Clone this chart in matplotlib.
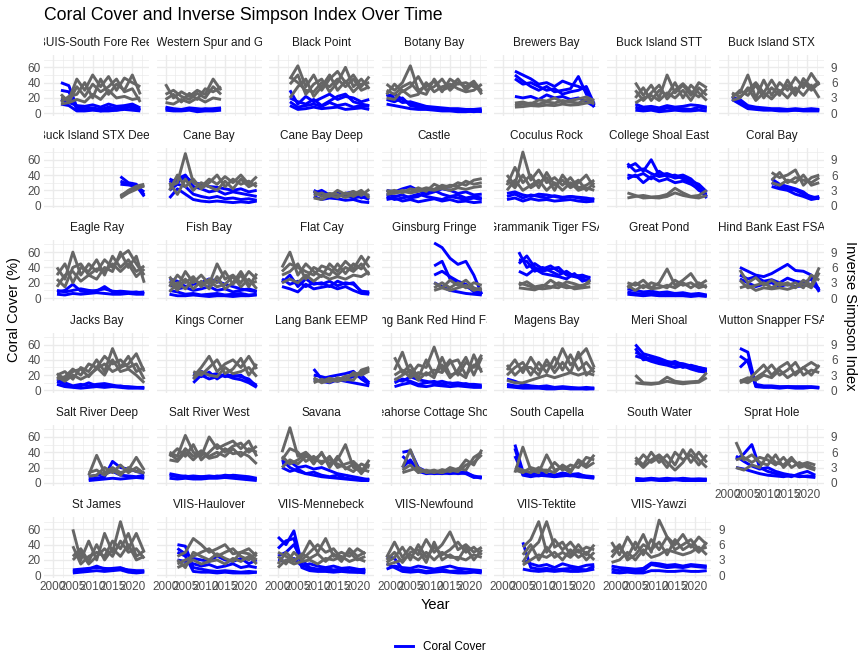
import numpy as np
import matplotlib
matplotlib.use("Agg")
import matplotlib.pyplot as plt
from matplotlib.lines import Line2D
from matplotlib.ticker import MultipleLocator, FixedLocator
from matplotlib.transforms import Bbox, TransformedBbox, offset_copy

plt.rcParams['font.family'] = ['Liberation Sans', 'DejaVu Sans']

# ---------------- data ----------------
SITES = [
    "BUIS-South Fore Reef", "BUIS-Western Spur and Groove", "Black Point", "Botany Bay",
    "Brewers Bay", "Buck Island STT", "Buck Island STX",
    "Buck Island STX Deep", "Cane Bay", "Cane Bay Deep", "Castle", "Coculus Rock",
    "College Shoal East", "Coral Bay",
    "Eagle Ray", "Fish Bay", "Flat Cay", "Ginsburg Fringe", "Grammanik Tiger FSA",
    "Great Pond", "Hind Bank East FSA",
    "Jacks Bay", "Kings Corner", "Lang Bank EEMP", "Lang Bank Red Hind FSA", "Magens Bay",
    "Meri Shoal", "Mutton Snapper FSA",
    "Salt River Deep", "Salt River West", "Savana", "Seahorse Cottage Shoal", "South Capella",
    "South Water", "Sprat Hole",
    "St James", "VIIS-Haulover", "VIIS-Mennebeck", "VIIS-Newfound", "VIIS-Tektite", "VIIS-Yawzi",
]

# first survey year of each site; surveys every YEAR_STEP years
START_YEAR = [2002, 2000, 2003, 1999, 2003, 2005, 2001,
              2017, 2001, 2009, 1999, 2001, 2003, 2011,
              2001, 2001, 2001, 2011, 2004, 2003, 2003,
              2001, 2007, 2009, 2001, 2001, 2005, 2003,
              2009, 2001, 2001, 2003, 2003, 2005, 2002,
              2005, 2003, 2000, 1999, 2005, 1999]
YEAR_STEP = 2

# coral cover (%) per transect, per site
CORAL_COVER = [
    # BUIS-South Fore Reef
    [[40, 36, 8, 6, 7, 5, 8, 6, 9, 7, 5], [30, 28, 5, 4, 6, 3, 5, 4, 6, 10, 4],
     [18, 14, 10, 9, 11, 8, 12, 9, 10, 12, 7], [12, 10, 3, 3, 4, 3, 3, 4, 5, 4, 3]],
    # BUIS-Western Spur and Groove
    [[8, 6, 5, 7, 6, 5, 6, 7], [4, 3, 3, 4, 2, 3, 3, 4], [6, 5, 4, 5, 4, 6, 5, 5]],
    # Black Point
    [[30, 12, 22, 15, 20, 25, 18, 22, 20, 15, 18], [15, 8, 10, 12, 9, 14, 10, 12, 8, 10, 9],
     [10, 5, 6, 8, 6, 7, 8, 5, 6, 7, 5], [20, 15, 12, 18, 10, 16, 22, 25, 15, 12, 10]],
    # Botany Bay
    [[22, 25, 18, 12, 10, 8, 6, 5, 4, 5, 3, 4, 3], [18, 15, 20, 10, 8, 6, 5, 4, 4, 3, 3, 2, 3],
     [12, 10, 8, 6, 5, 5, 4, 3, 3, 2, 2, 3, 2], [25, 20, 14, 15, 12, 9, 8, 7, 6, 6, 5, 5, 6]],
    # Brewers Bay
    [[55, 50, 45, 38, 40, 35, 42, 38, 35, 30, 10], [50, 42, 35, 30, 35, 28, 30, 32, 48, 25, 8],
     [45, 38, 40, 35, 30, 32, 25, 28, 30, 35, 12], [22, 20, 22, 18, 24, 20, 22, 18, 20, 15, 9]],
    # Buck Island STT
    [[8, 5, 6, 4, 7, 5, 6, 5, 8, 6], [4, 3, 4, 2, 3, 4, 3, 3, 4, 3],
     [12, 8, 9, 7, 10, 8, 9, 11, 10, 8]],
    # Buck Island STX
    [[20, 18, 10, 8, 7, 6, 6, 5, 6, 5, 6, 5], [22, 15, 8, 6, 5, 5, 4, 5, 4, 4, 5, 4],
     [18, 12, 6, 5, 4, 4, 3, 3, 4, 3, 3, 3]],
    # Buck Island STX Deep
    [[38, 30, 28, 14], [32, 28, 26, 12], [28, 27, 25, 18]],
    # Cane Bay
    [[30, 35, 40, 25, 22, 18, 20, 15, 18, 16, 14, 12], [20, 28, 25, 15, 12, 10, 12, 9, 10, 8, 9, 7],
     [10, 22, 15, 8, 6, 5, 6, 5, 4, 5, 4, 6], [35, 30, 38, 30, 28, 25, 24, 22, 20, 22, 18, 20]],
    # Cane Bay Deep
    [[20, 15, 12, 18, 14, 10, 12, 8], [12, 8, 10, 9, 7, 8, 5, 4], [16, 20, 14, 12, 16, 18, 10, 14]],
    # Castle
    [[15, 12, 14, 10, 12, 18, 20, 15, 12, 14, 10, 12, 10], [8, 10, 6, 8, 5, 7, 9, 6, 8, 5, 6, 4, 5],
     [20, 18, 22, 25, 20, 15, 18, 22, 20, 16, 18, 14, 15], [12, 8, 10, 12, 15, 12, 10, 8, 12, 10, 8, 10, 8]],
    # Coculus Rock
    [[12, 15, 10, 14, 12, 10, 13, 11, 12, 10, 8, 9], [8, 10, 6, 9, 7, 8, 6, 7, 8, 6, 5, 6],
     [16, 18, 14, 12, 15, 14, 12, 10, 12, 11, 10, 8]],
    # College Shoal East
    [[50, 55, 45, 60, 40, 42, 38, 40, 35, 25, 12], [40, 38, 42, 35, 45, 38, 40, 35, 30, 20, 15],
     [35, 40, 30, 38, 32, 35, 30, 32, 28, 22, 10], [55, 45, 48, 42, 38, 40, 36, 38, 32, 28, 18]],
    # Coral Bay
    [[35, 28, 25, 22, 18, 10, 12], [30, 25, 22, 20, 15, 12, 9], [25, 22, 20, 15, 12, 8, 10]],
    # Eagle Ray
    [[8, 10, 18, 9, 8, 10, 12, 9, 8, 7, 8, 6], [5, 4, 6, 5, 6, 7, 6, 5, 5, 6, 5, 5],
     [10, 8, 10, 12, 10, 9, 15, 8, 9, 8, 7, 8]],
    # Fish Bay
    [[25, 22, 15, 18, 20, 25, 22, 18, 15, 12, 10, 8], [10, 8, 5, 6, 4, 5, 6, 4, 5, 6, 4, 5],
     [18, 12, 14, 10, 12, 15, 10, 12, 8, 10, 12, 9], [5, 3, 3, 4, 3, 2, 3, 3, 2, 3, 3, 4]],
    # Flat Cay
    [[20, 30, 15, 25, 18, 20, 15, 22, 18, 20, 8, 6], [15, 12, 8, 18, 12, 14, 16, 12, 15, 10, 6, 5],
     [25, 18, 22, 15, 20, 18, 22, 16, 20, 18, 9, 8]],
    # Ginsburg Fringe
    [[72, 66, 52, 44, 48, 30, 5], [42, 48, 25, 20, 15, 10, 6],
     [30, 35, 28, 22, 18, 8, 5], [20, 15, 10, 8, 6, 5, 4]],
    # Grammanik Tiger FSA
    [[60, 40, 45, 38, 42, 35, 32, 30, 28, 27], [50, 48, 35, 40, 35, 30, 35, 28, 25, 22],
     [35, 30, 38, 32, 30, 28, 25, 32, 22, 25], [45, 55, 40, 35, 38, 40, 30, 28, 30, 26]],
    # Great Pond
    [[12, 10, 8, 9, 7, 8, 6, 7, 5, 6, 4], [8, 6, 5, 6, 4, 5, 4, 5, 3, 4, 3],
     [5, 4, 3, 4, 3, 3, 3, 3, 2, 3, 2]],
    # Hind Bank East FSA
    [[40, 35, 30, 28, 32, 38, 44, 36, 35, 30, 10], [30, 25, 28, 22, 24, 20, 26, 22, 20, 25, 8],
     [25, 20, 15, 18, 20, 15, 18, 15, 16, 18, 12]],
    # Jacks Bay
    [[12, 8, 5, 6, 10, 6, 7, 5, 6, 4, 4, 3], [8, 5, 4, 3, 4, 5, 4, 5, 4, 3, 3, 3],
     [15, 10, 6, 8, 6, 8, 9, 7, 5, 5, 4, 4]],
    # Kings Corner
    [[15, 25, 20, 22, 18, 20, 18, 15, 5], [10, 20, 15, 18, 20, 16, 14, 10, 4],
     [22, 18, 24, 15, 22, 18, 20, 12, 7]],
    # Lang Bank EEMP
    [[28, 15, 18, 20, 22, 25, 15, 8], [15, 12, 10, 14, 12, 10, 8, 6], [20, 18, 15, 12, 15, 18, 20, 10]],
    # Lang Bank Red Hind FSA
    [[10, 15, 12, 8, 10, 12, 8, 10, 7, 9, 6, 5], [5, 8, 10, 6, 5, 7, 6, 5, 6, 5, 4, 4],
     [15, 12, 18, 14, 12, 10, 12, 9, 10, 8, 8, 7]],
    # Magens Bay
    [[15, 12, 8, 6, 5, 6, 4, 5, 4, 3, 4, 3], [8, 6, 5, 4, 4, 3, 3, 3, 3, 3, 2, 3],
     [5, 4, 3, 3, 3, 2, 2, 3, 2, 2, 2, 2]],
    # Meri Shoal
    [[60, 48, 45, 42, 38, 36, 35, 32, 30, 27], [50, 45, 40, 38, 35, 38, 33, 30, 28, 25],
     [45, 42, 38, 35, 33, 30, 32, 28, 25, 24], [55, 40, 42, 40, 36, 34, 30, 33, 30, 28]],
    # Mutton Snapper FSA
    [[55, 50, 6, 5, 5, 4, 5, 4, 4, 4, 4], [45, 38, 5, 4, 4, 3, 4, 3, 3, 4, 3],
     [30, 40, 8, 6, 6, 5, 5, 5, 5, 5, 4]],
    # Salt River Deep
    [[5, 6, 8, 28, 20, 18, 15, 12], [3, 4, 5, 6, 5, 6, 7, 6], [8, 10, 12, 15, 10, 9, 8, 10]],
    # Salt River West
    [[10, 8, 9, 7, 8, 9, 8, 10, 9, 8, 6, 5], [6, 5, 6, 5, 5, 6, 6, 7, 6, 5, 4, 3],
     [12, 10, 8, 9, 8, 7, 9, 8, 10, 9, 8, 6]],
    # Savana
    [[30, 20, 15, 12, 10, 8, 7, 6, 5, 4, 3, 3], [20, 15, 18, 12, 14, 10, 8, 10, 6, 5, 4, 5],
     [25, 28, 20, 22, 18, 20, 16, 12, 10, 8, 6, 4]],
    # Seahorse Cottage Shoal
    [[40, 42, 20, 15, 14, 13, 15, 14, 12, 7, 8], [35, 25, 18, 14, 12, 13, 12, 13, 14, 8, 6],
     [20, 30, 15, 12, 13, 12, 14, 12, 13, 9, 7]],
    # South Capella
    [[50, 15, 12, 14, 12, 10, 13, 11, 12, 8, 7], [45, 10, 8, 10, 9, 8, 9, 10, 8, 7, 6],
     [35, 12, 10, 9, 11, 10, 10, 9, 10, 9, 8]],
    # South Water
    [[5, 4, 5, 4, 4, 5, 4, 4, 5, 4], [3, 3, 4, 3, 3, 4, 3, 3, 3, 3], [6, 5, 6, 5, 6, 5, 6, 5, 5, 5]],
    # Sprat Hole
    [[30, 38, 50, 20, 15, 12, 10, 8, 12, 15, 10], [35, 28, 22, 18, 20, 15, 12, 10, 8, 9, 8],
     [20, 18, 15, 12, 10, 9, 8, 10, 9, 8, 7]],
    # St James
    [[5, 6, 8, 12, 8, 9, 10, 6, 5, 5], [3, 4, 5, 6, 5, 6, 7, 4, 3, 4], [7, 8, 9, 10, 9, 8, 9, 7, 6, 6]],
    # VIIS-Haulover
    [[40, 38, 10, 8, 6, 5, 6, 5, 4, 5, 4], [30, 25, 5, 4, 4, 3, 4, 3, 3, 3, 4],
     [20, 18, 15, 12, 14, 10, 12, 15, 10, 12, 10], [35, 28, 22, 20, 18, 25, 20, 18, 22, 15, 20]],
    # VIIS-Mennebeck
    [[50, 40, 58, 15, 8, 6, 7, 5, 6, 5, 4, 5], [35, 45, 48, 10, 6, 5, 5, 4, 5, 4, 4, 3],
     [25, 30, 40, 20, 10, 8, 9, 7, 8, 6, 7, 8], [20, 18, 22, 12, 15, 12, 10, 12, 9, 10, 8, 6]],
    # VIIS-Newfound
    [[25, 22, 8, 6, 7, 5, 6, 8, 5, 6, 4, 5, 5], [15, 10, 5, 4, 5, 3, 4, 5, 4, 3, 3, 4, 3],
     [8, 12, 10, 9, 12, 10, 8, 10, 12, 9, 8, 7, 6]],
    # VIIS-Tektite
    [[43, 10, 8, 9, 7, 8, 9, 8, 7, 12], [8, 6, 5, 6, 5, 6, 5, 5, 6, 8],
     [20, 15, 12, 14, 10, 15, 12, 10, 13, 14]],
    # VIIS-Yawzi
    [[8, 6, 7, 5, 6, 14, 12, 10, 11, 10, 12, 11, 10], [4, 3, 4, 3, 3, 6, 6, 5, 5, 6, 5, 5, 6],
     [12, 10, 9, 8, 9, 16, 15, 13, 14, 12, 14, 13, 12]],
]

# inverse Simpson index per transect, per site
INV_SIMPSON = [
    # BUIS-South Fore Reef
    [[3.0, 2.7, 6.7, 4.5, 7.5, 5.2, 7.2, 4.5, 6.9, 6.0, 5.2], [2.2, 3.3, 3.7, 6.0, 3.0, 6.7, 3.7, 5.7, 4.5, 7.5, 3.7],
     [1.8, 2.1, 2.7, 2.2, 3.7, 2.7, 4.5, 3.0, 3.3, 2.7, 3.0], [3.7, 2.2, 5.2, 3.3, 5.7, 4.2, 5.2, 6.7, 4.2, 4.8, 2.2]],
    # BUIS-Western Spur and Groove
    [[5.7, 3.0, 4.2, 3.3, 4.5, 3.7, 6.7, 4.5], [2.7, 3.7, 2.2, 3.9, 2.7, 4.8, 4.2, 5.2],
     [2.1, 1.8, 2.7, 2.1, 3.0, 2.2, 3.0, 2.7], [3.7, 4.5, 3.3, 2.7, 3.9, 3.0, 5.2, 3.7]],
    # Black Point
    [[6.7, 9.3, 5.2, 7.5, 4.5, 6.7, 8.2, 6.0, 7.5, 5.2, 7.2], [5.7, 7.5, 3.7, 5.7, 6.7, 4.2, 6.0, 9.0, 5.2, 6.7, 4.8],
     [3.0, 5.2, 6.7, 3.3, 5.2, 7.5, 4.5, 6.3, 4.2, 5.7, 6.0], [7.2, 6.0, 4.5, 4.2, 6.0, 5.2, 6.7, 5.2, 6.7, 4.5, 5.2]],
    # Botany Bay
    [[5.7, 4.5, 6.0, 9.3, 4.5, 5.2, 6.3, 4.2, 6.7, 5.7, 6.0, 5.2, 4.5],
     [3.7, 5.7, 4.2, 5.2, 7.2, 4.5, 5.2, 6.7, 4.5, 6.0, 5.2, 6.3, 4.2],
     [3.0, 2.7, 4.5, 3.3, 3.7, 6.0, 4.2, 5.2, 5.7, 4.8, 4.2, 4.5, 5.7],
     [4.5, 3.7, 5.2, 6.0, 4.2, 3.7, 6.7, 4.5, 5.2, 6.7, 4.5, 6.0, 3.7]],
    # Brewers Bay
    [[1.5, 1.8, 2.0, 1.8, 2.2, 2.0, 2.5, 2.2, 2.0, 2.7, 1.8], [1.2, 1.3, 1.5, 1.4, 1.6, 1.5, 1.8, 1.6, 1.7, 2.0, 2.2],
     [2.0, 2.2, 1.8, 2.6, 2.4, 3.0, 2.2, 2.5, 2.8, 3.2, 2.5]],
    # Buck Island STT
    [[6.0, 3.5, 5.5, 3.0, 7.5, 4.0, 5.5, 3.5, 6.0, 5.0], [3.0, 5.0, 2.5, 4.5, 3.5, 6.0, 3.0, 5.5, 4.0, 2.5],
     [4.5, 2.5, 4.0, 5.5, 2.8, 4.5, 5.8, 4.2, 3.2, 4.8], [2.0, 3.0, 3.5, 2.5, 4.0, 3.0, 4.5, 2.5, 5.0, 3.5]],
    # Buck Island STX
    [[3.5, 4.0, 7.5, 3.0, 6.5, 3.5, 6.0, 4.5, 7.0, 5.0, 7.8, 5.5], [3.0, 4.5, 3.5, 5.5, 3.0, 5.0, 3.5, 6.5, 4.0, 6.0, 4.5, 6.0],
     [2.5, 3.0, 5.0, 2.5, 4.0, 2.8, 4.5, 3.0, 5.0, 3.5, 5.5, 3.0], [4.0, 3.2, 4.5, 6.0, 4.0, 6.5, 4.0, 5.5, 3.5, 6.8, 5.0, 6.2]],
    # Buck Island STX Deep
    [[1.5, 2.5, 3.2, 4.0], [2.0, 2.8, 3.5, 3.8], [1.8, 3.0, 3.8, 4.2]],
    # Cane Bay
    [[3.7, 4.5, 10.2, 4.5, 3.7, 5.2, 4.2, 5.7, 4.5, 6.0, 4.2, 5.7], [3.0, 6.0, 3.7, 5.2, 3.3, 4.5, 6.0, 3.7, 5.2, 4.2, 4.8, 3.7],
     [4.5, 2.2, 5.2, 3.0, 4.5, 3.7, 3.0, 4.8, 3.3, 5.2, 3.7, 4.5]],
    # Cane Bay Deep
    [[2.0, 2.5, 1.8, 3.0, 2.2, 2.8, 2.0, 3.2], [1.5, 1.2, 2.0, 1.6, 2.5, 1.8, 2.6, 2.0], [2.8, 1.8, 2.4, 2.2, 1.6, 2.2, 3.0, 1.5]],
    # Castle
    [[2.7, 3.0, 2.5, 3.3, 3.0, 3.5, 3.2, 4.0, 3.6, 4.5, 4.0, 5.0, 5.3],
     [2.2, 2.5, 3.0, 2.7, 3.5, 2.8, 4.2, 3.5, 4.0, 3.8, 4.8, 4.2, 4.5],
     [3.0, 2.4, 2.8, 2.5, 2.8, 3.2, 3.0, 3.4, 3.0, 3.5, 3.2, 3.6, 3.8]],
    # Coculus Rock
    [[6.0, 4.0, 10.5, 5.0, 7.0, 4.5, 5.5, 4.0, 5.5, 3.5, 4.0, 5.0], [4.0, 7.5, 4.5, 6.0, 3.5, 6.5, 4.0, 5.0, 3.5, 4.5, 6.0, 3.5],
     [3.0, 5.0, 3.0, 4.0, 5.0, 3.0, 4.5, 3.0, 4.5, 3.0, 3.5, 3.0], [5.0, 3.5, 6.0, 3.5, 4.5, 5.5, 3.0, 6.0, 4.0, 5.0, 3.0, 4.5]],
    # College Shoal East
    [[1.5, 1.8, 2.0, 1.7, 1.8, 2.2, 3.4, 2.5, 1.8, 2.0, 3.0], [2.5, 2.0, 1.5, 1.6, 1.5, 1.8, 2.5, 2.0, 1.7, 1.5, 2.0]],
    # Coral Bay
    [[6.5, 5.5, 6.0, 7.0, 4.0, 5.5, 6.0], [5.0, 6.5, 4.5, 5.5, 5.0, 4.5, 5.5], [4.5, 4.0, 5.0, 4.5, 6.0, 4.0, 4.5]],
    # Eagle Ray
    [[6.0, 3.7, 9.0, 4.5, 6.7, 5.2, 7.5, 6.0, 8.2, 9.3, 6.7, 4.5], [4.5, 6.7, 3.0, 6.0, 5.2, 7.5, 4.5, 8.2, 6.0, 7.5, 5.2, 6.3],
     [2.2, 4.5, 5.2, 3.3, 4.5, 3.7, 6.0, 5.2, 9.0, 6.0, 8.2, 3.0], [3.7, 2.2, 6.0, 6.7, 4.5, 5.7, 5.2, 6.7, 5.2, 6.7, 4.2, 5.7]],
    # Fish Bay
    [[4.2, 2.2, 5.2, 3.0, 4.5, 2.7, 6.7, 3.7, 4.5, 3.0, 5.2, 3.7], [2.2, 4.5, 3.0, 4.2, 2.2, 3.7, 3.0, 5.2, 2.7, 4.5, 2.2, 4.8],
     [1.2, 3.0, 1.8, 3.7, 2.7, 3.3, 2.2, 2.7, 4.2, 2.2, 3.7, 1.8], [3.3, 1.5, 3.7, 1.8, 3.3, 1.8, 4.2, 1.8, 3.0, 5.2, 2.7, 3.3]],
    # Flat Cay
    [[6.0, 9.0, 4.5, 6.7, 5.2, 4.2, 6.7, 5.2, 7.2, 5.7, 8.2, 6.0], [4.5, 5.2, 6.7, 3.7, 6.0, 5.2, 4.5, 6.7, 4.8, 6.7, 5.7, 8.2],
     [3.0, 3.7, 3.0, 4.5, 3.3, 4.5, 3.7, 4.2, 3.7, 4.5, 4.2, 5.2], [5.2, 6.7, 6.0, 5.2, 4.5, 6.3, 5.7, 4.5, 6.0, 5.2, 6.7, 4.5]],
    # Ginsburg Fringe
    [[3.0, 2.0, 3.5, 2.5, 3.5, 2.0, 1.5], [2.0, 3.0, 2.0, 3.0, 2.0, 3.0, 2.5],
     [1.5, 2.0, 1.5, 2.0, 2.5, 1.5, 2.0]],
    # Grammanik Tiger FSA
    [[2.0, 1.8, 1.6, 2.2, 3.5, 2.5, 2.0, 2.2, 2.5, 3.0], [3.0, 2.5, 2.0, 1.8, 2.0, 3.0, 2.5, 1.8, 2.0, 2.2],
     [2.5, 3.2, 2.2, 2.5, 2.2, 2.0, 3.2, 2.8, 2.2, 3.5]],
    # Great Pond
    [[3.0, 2.5, 3.5, 2.0, 3.0, 5.7, 2.5, 3.5, 4.8, 2.5, 3.5], [2.0, 3.0, 2.0, 3.0, 2.5, 2.0, 3.5, 2.5, 3.0, 2.0, 2.5],
     [2.5, 1.5, 2.5, 1.8, 2.0, 2.5, 2.0, 3.0, 2.0, 3.0, 2.0]],
    # Hind Bank East FSA
    [[5.5, 3.0, 4.0, 2.5, 3.5, 2.5, 3.0, 2.0, 3.5, 2.5, 6.0], [3.5, 2.0, 2.5, 3.0, 2.0, 3.0, 2.5, 3.0, 2.0, 4.5, 3.5],
     [2.0, 2.5, 1.5, 2.0, 1.8, 2.0, 1.7, 2.2, 2.8, 2.0, 5.0]],
    # Jacks Bay
    [[3.0, 3.7, 2.2, 4.5, 3.7, 6.0, 3.7, 8.2, 4.5, 5.2, 7.2, 3.7], [2.2, 2.7, 4.2, 3.0, 5.2, 4.5, 6.7, 5.2, 6.0, 4.5, 5.2, 2.2],
     [2.7, 1.8, 3.0, 2.2, 3.0, 4.2, 5.2, 3.7, 4.5, 6.7, 3.7, 4.5], [3.3, 2.2, 3.7, 4.2, 2.7, 4.5, 3.0, 6.0, 3.7, 4.2, 3.0, 1.5]],
    # Kings Corner
    [[2.7, 4.5, 6.7, 3.7, 5.2, 6.0, 4.5, 6.7, 4.2], [3.7, 3.0, 4.5, 6.0, 3.3, 4.2, 6.3, 3.0, 5.2],
     [2.2, 3.7, 3.0, 2.7, 4.5, 3.3, 3.7, 4.5, 2.7]],
    # Lang Bank EEMP
    [[2.0, 1.8, 2.4, 2.0, 2.8, 3.0, 3.5, 4.2], [1.5, 2.2, 1.6, 2.5, 2.0, 3.5, 3.0, 3.8], [2.5, 1.5, 2.0, 1.8, 2.2, 2.0, 4.0, 4.5]],
    # Lang Bank Red Hind FSA
    [[4.0, 7.5, 3.0, 5.0, 4.5, 8.5, 4.0, 6.0, 3.0, 5.5, 4.5, 7.0], [6.5, 3.5, 5.0, 2.5, 6.0, 3.0, 5.0, 2.5, 4.0, 6.5, 3.0, 6.5],
     [3.0, 4.0, 2.5, 3.5, 3.0, 4.0, 3.5, 5.5, 6.0, 3.0, 5.0, 4.0], [2.0, 3.0, 4.0, 2.0, 3.5, 2.5, 6.5, 3.0, 3.5, 2.5, 7.0, 3.5]],
    # Magens Bay
    [[4.0, 6.0, 3.5, 6.5, 4.0, 5.0, 4.5, 8.2, 5.0, 6.5, 8.2, 4.5], [3.0, 4.5, 5.5, 3.0, 5.5, 3.5, 6.5, 4.0, 7.0, 4.0, 5.5, 3.5],
     [2.0, 1.5, 1.5, 2.0, 2.5, 3.0, 2.5, 3.0, 3.5, 3.0, 3.5, 3.0], [5.0, 3.0, 4.5, 4.5, 3.0, 6.0, 3.5, 5.5, 3.5, 7.5, 3.0, 4.5]],
    # Meri Shoal
    [[3.0, 1.5, 1.4, 1.5, 2.6, 1.8, 1.6, 1.7, 1.8, 3.5], [1.5, 1.3, 1.2, 1.4, 1.8, 1.5, 1.3, 1.5, 1.6, 2.5]],
    # Mutton Snapper FSA
    [[1.5, 2.0, 3.5, 5.0, 3.0, 4.5, 5.5, 3.0, 4.5, 5.5, 4.5], [2.0, 1.5, 2.5, 3.5, 5.0, 3.0, 4.0, 5.5, 3.0, 4.0, 3.5],
     [1.8, 2.5, 2.0, 3.0, 2.5, 4.0, 2.5, 3.5, 4.5, 3.0, 5.0]],
    # Salt River Deep
    [[1.5, 5.4, 2.0, 3.0, 2.0, 2.5, 5.0, 2.5], [1.3, 1.5, 3.0, 2.0, 3.5, 2.0, 3.0, 1.8], [2.0, 2.5, 1.5, 2.5, 1.5, 3.0, 2.2, 2.0]],
    # Salt River West
    [[6.0, 5.2, 9.3, 6.0, 5.2, 9.0, 6.7, 7.5, 8.2, 6.7, 8.2, 5.2], [5.2, 6.7, 5.2, 7.5, 4.5, 6.0, 7.5, 6.0, 7.2, 7.8, 6.0, 7.2],
     [4.5, 4.2, 6.0, 4.5, 6.0, 4.8, 5.2, 6.7, 5.7, 6.0, 5.2, 3.7], [5.7, 4.5, 6.7, 5.2, 6.3, 5.2, 6.0, 5.2, 6.7, 5.2, 6.7, 6.0]],
    # Savana
    [[6.0, 10.8, 5.2, 6.0, 4.5, 5.7, 3.7, 4.5, 7.5, 3.0, 2.2, 4.5], [4.5, 6.7, 6.0, 4.2, 5.2, 3.7, 5.2, 3.0, 3.7, 4.2, 2.7, 2.2],
     [3.0, 4.5, 3.7, 5.2, 4.5, 4.2, 4.5, 3.7, 3.0, 2.2, 3.7, 3.0], [5.2, 3.7, 4.5, 5.7, 3.7, 6.0, 3.0, 5.2, 2.7, 3.7, 1.8, 3.7]],
    # Seahorse Cottage Shoal
    [[3.0, 6.5, 2.5, 2.2, 2.5, 2.0, 3.0, 2.5, 4.5, 3.5, 6.5], [2.5, 3.5, 2.0, 2.5, 2.0, 2.6, 2.2, 2.8, 2.5, 5.0, 6.0],
     [2.0, 2.5, 3.0, 2.0, 2.2, 2.0, 2.5, 2.2, 3.5, 4.0, 5.5]],
    # South Capella
    [[2.0, 7.0, 2.5, 2.0, 5.5, 2.5, 3.0, 2.0, 4.5, 3.5, 5.5], [3.0, 2.5, 2.0, 3.0, 2.0, 4.0, 2.5, 3.5, 3.0, 5.0, 4.5],
     [2.5, 2.0, 3.0, 2.5, 2.5, 2.0, 3.5, 2.5, 4.0, 3.0, 4.0]],
    # South Water
    [[5.0, 3.5, 6.0, 4.0, 5.5, 3.5, 6.5, 4.0, 6.0, 4.0], [3.5, 5.5, 4.0, 5.0, 3.0, 6.0, 4.5, 5.5, 3.5, 5.5],
     [4.5, 3.0, 4.5, 5.5, 4.0, 2.5, 4.0, 6.5, 4.5, 3.0]],
    # Sprat Hole
    [[8.0, 4.5, 5.5, 4.0, 3.5, 5.5, 3.0, 4.5, 3.5, 4.0, 3.5], [4.5, 5.0, 4.0, 5.0, 4.5, 3.5, 5.0, 3.0, 4.0, 3.0, 2.5],
     [3.0, 2.5, 3.5, 3.0, 5.5, 4.0, 3.5, 5.0, 3.0, 3.5, 2.8]],
    # St James
    [[9.0, 3.0, 6.7, 3.0, 8.2, 4.5, 10.5, 5.2, 8.2, 4.5], [5.7, 2.2, 3.7, 4.5, 3.7, 6.7, 5.2, 8.2, 3.7, 4.8],
     [3.7, 5.2, 2.7, 6.0, 3.0, 5.2, 3.7, 6.0, 3.0, 3.7], [3.0, 4.5, 2.2, 3.7, 5.2, 3.7, 6.7, 4.5, 5.2, 3.3]],
    # VIIS-Haulover
    [[3.7, 4.5, 7.2, 6.0, 4.5, 5.2, 6.0, 4.2, 4.5, 5.2, 3.7], [2.2, 3.0, 3.7, 4.5, 5.2, 3.7, 4.5, 5.2, 3.7, 3.0, 4.5],
     [1.5, 2.2, 3.0, 2.2, 2.7, 3.0, 2.2, 3.3, 2.7, 3.7, 2.2], [3.0, 1.5, 4.5, 3.7, 3.0, 4.2, 3.3, 2.7, 4.5, 4.2, 3.0]],
    # VIIS-Mennebeck
    [[2.2, 4.5, 3.0, 3.7, 6.7, 4.5, 7.2, 3.7, 4.5, 3.7, 5.2, 4.2], [3.7, 2.2, 4.5, 3.0, 4.5, 6.0, 4.5, 5.2, 3.3, 4.5, 3.0, 3.7],
     [1.5, 3.0, 2.2, 2.7, 3.0, 2.2, 3.3, 3.0, 3.7, 2.7, 3.3, 2.7], [4.5, 3.7, 2.7, 4.2, 3.3, 4.2, 2.7, 4.2, 2.7, 5.2, 3.7, 4.5]],
    # VIIS-Newfound
    [[3.5, 6.5, 3.5, 5.5, 4.0, 7.0, 4.5, 6.0, 8.5, 5.0, 6.0, 4.5, 5.5],
     [2.5, 3.5, 5.5, 3.0, 6.0, 3.5, 5.5, 4.0, 5.0, 6.5, 4.5, 5.5, 4.0],
     [2.0, 2.5, 3.0, 4.0, 3.0, 4.5, 3.0, 4.5, 3.5, 3.5, 3.0, 4.0, 3.5],
     [3.0, 4.5, 2.5, 4.5, 5.0, 2.5, 6.5, 3.0, 4.0, 3.0, 5.5, 3.0, 5.0]],
    # VIIS-Tektite
    [[5.5, 7.0, 10.5, 4.5, 7.0, 5.0, 6.5, 4.5, 5.5, 5.0], [2.5, 5.0, 6.5, 10.5, 5.5, 6.5, 4.0, 6.0, 4.0, 6.0],
     [2.0, 3.0, 4.0, 3.5, 4.5, 3.0, 5.0, 3.5, 4.5, 3.0], [4.0, 6.0, 3.0, 5.5, 3.5, 4.5, 3.5, 5.0, 3.0, 4.5]],
    # VIIS-Yawzi
    [[6.5, 4.0, 7.5, 5.0, 8.0, 4.5, 10.8, 7.5, 6.0, 8.0, 5.5, 7.5, 6.0],
     [3.5, 5.5, 3.5, 6.5, 4.0, 7.0, 5.0, 7.5, 5.0, 6.0, 7.0, 5.0, 5.5],
     [2.5, 3.0, 4.5, 3.0, 5.0, 3.5, 4.0, 5.0, 4.5, 4.0, 4.5, 5.5, 4.0],
     [4.5, 6.0, 3.0, 4.0, 6.0, 5.0, 6.5, 4.0, 7.0, 5.0, 6.0, 4.5, 6.5]],
]

SEC_SCALE = 20.0 / 3.0          # coral-cover units per inverse-Simpson unit
Y_BREAKS = [0, 20, 40, 60]
SEC_BREAKS = [0, 3, 6, 9]
X_BREAKS = [2000, 2005, 2010, 2015, 2020]

# ---------------- style ----------------
W, H = 864, 672
NCOL = 7
PANEL_L0, PANEL_PITCH_X, PANEL_W = 44.3, 112.5, 104.7
PANEL_B0, PANEL_PITCH_Y, PANEL_H = 116.0, 92.4, 60.6
CORAL_COL = "#0000FF"
SIMP_COL = "#666666"
GRID_COL = "#EBEBEB"
TICK_COL = "#4D4D4D"
LW = 2.1
FS_TICK = 8.45
FS_STRIP = 8.45
FS_AXTITLE = 10.56
FS_TITLE = 12.7

fig = plt.figure(figsize=(W / 100, H / 100), dpi=100)

all_starts = np.array(START_YEAR)
all_ends = np.array([s + YEAR_STEP * (len(c[0]) - 1) for s, c in zip(START_YEAR, CORAL_COVER)])
x0, x1 = all_starts.min(), all_ends.max()
xr = x1 - x0
xlim = (x0 - 0.05 * xr, x1 + 0.05 * xr)
ymax = max(max(max(l) for l in c) for c in CORAL_COVER)
ymax = max(ymax, SEC_SCALE * max(max(max(l) for l in s) for s in INV_SIMPSON))
ylim = (-0.05 * ymax, 1.05 * ymax)

n = len(SITES)
for i, site in enumerate(SITES):
    r, c = divmod(i, NCOL)
    left = (PANEL_L0 + c * PANEL_PITCH_X) / W
    bottom = 1 - (PANEL_B0 + r * PANEL_PITCH_Y) / H
    ax = fig.add_axes([left, bottom, PANEL_W / W, PANEL_H / H])
    for line in CORAL_COVER[i]:
        yrs = START_YEAR[i] + YEAR_STEP * np.arange(len(line))
        ax.plot(yrs, line, color=CORAL_COL, lw=LW, solid_joinstyle='round', solid_capstyle='butt')
    for line in INV_SIMPSON[i]:
        yrs = START_YEAR[i] + YEAR_STEP * np.arange(len(line))
        ax.plot(yrs, np.array(line) * SEC_SCALE, color=SIMP_COL, lw=LW,
                solid_joinstyle='round', solid_capstyle='butt')
    ax.set_xlim(*xlim)
    ax.set_ylim(*ylim)
    ax.xaxis.set_major_locator(FixedLocator(X_BREAKS))
    ax.xaxis.set_minor_locator(MultipleLocator(2.5))
    ax.yaxis.set_major_locator(FixedLocator(Y_BREAKS))
    ax.yaxis.set_minor_locator(MultipleLocator(10))
    ax.grid(which='major', color=GRID_COL, lw=1.0)
    ax.grid(which='minor', color=GRID_COL, lw=0.5)
    ax.set_axisbelow(True)
    for sp in ax.spines.values():
        sp.set_visible(False)
    ax.tick_params(which='both', length=0, labelsize=FS_TICK, labelcolor=TICK_COL, pad=2.5)
    ax.tick_params(labelleft=(c == 0), labelbottom=(i >= n - NCOL))

    # strip label, clipped to the panel width
    tr = offset_copy(ax.transAxes, fig=fig, x=0, y=12, units='dots')
    t = ax.text(0.5, 1.0, site, transform=tr, ha='center', va='center',
                fontsize=FS_STRIP, color='#1A1A1A')
    t.set_clip_box(TransformedBbox(Bbox.from_bounds(0, 1, 1, 0.6), ax.transAxes))
    t.set_clip_on(True)

    if c == NCOL - 1 or i == n - 1:
        sec = ax.secondary_yaxis('right', functions=(lambda v: v / SEC_SCALE, lambda s: s * SEC_SCALE))
        sec.yaxis.set_major_locator(FixedLocator(SEC_BREAKS))
        sec.tick_params(length=0, labelsize=FS_TICK, labelcolor=TICK_COL, pad=5)
        for sp in sec.spines.values():
            sp.set_visible(False)

fig.text(44 / W, 1 - 15 / H, "Coral Cover and Inverse Simpson Index Over Time",
         fontsize=FS_TITLE, ha='left', va='center', color='black')
fig.text(435 / W, 1 - 605 / H, "Year", fontsize=FS_AXTITLE, ha='center', va='center')
fig.text(14 / W, 1 - 310 / H, "Coral Cover (%)", fontsize=FS_AXTITLE, ha='center', va='center',
         rotation=90)
fig.text(850 / W, 1 - 316 / H, "Inverse Simpson Index", fontsize=FS_AXTITLE, ha='center',
         va='center', rotation=-90)

fig.legend(handles=[Line2D([], [], color=CORAL_COL, lw=LW)], labels=["Coral Cover"],
           loc='center', bbox_to_anchor=(440 / W, 1 - 647 / H), frameon=False,
           fontsize=FS_TICK, handlelength=1.55, handletextpad=0.85)

fig.savefig("out.png", dpi=100)
